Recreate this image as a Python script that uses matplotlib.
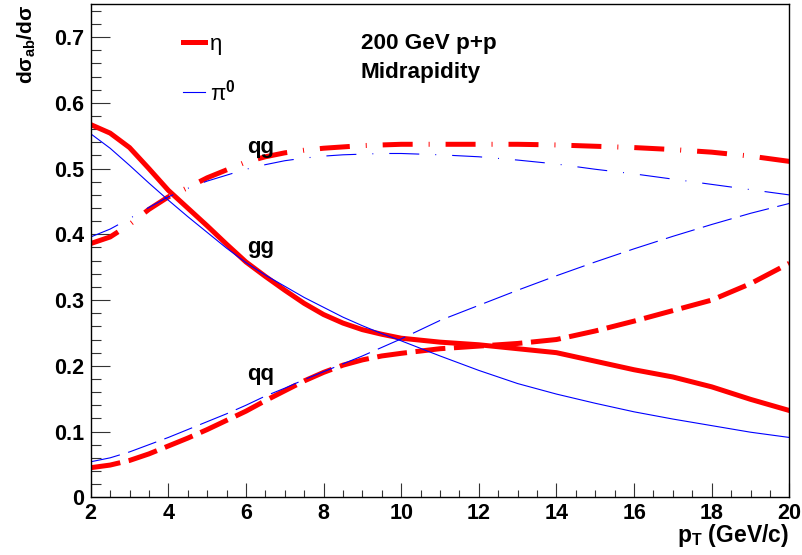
import matplotlib
matplotlib.use("Agg")
import matplotlib.pyplot as plt
from matplotlib.ticker import MultipleLocator

plt.rcParams['font.family'] = ['Liberation Sans', 'DejaVu Sans']
plt.rcParams['mathtext.fontset'] = 'custom'
plt.rcParams['mathtext.rm'] = 'Liberation Sans'
plt.rcParams['mathtext.bf'] = 'Liberation Sans:bold'
plt.rcParams['mathtext.it'] = 'Liberation Sans:italic'
plt.rcParams['lines.scale_dashes'] = False

# subprocess fractions vs pT
pt = [2, 2.5, 3, 3.5, 4, 4.5, 5, 5.5, 6, 6.5, 7, 7.5, 8, 8.5, 9, 9.5, 10,
      11, 12, 13, 14, 15, 16, 17, 18, 19, 20]

eta_gg = [0.567, 0.554, 0.532, 0.500, 0.467, 0.440, 0.413, 0.385, 0.358, 0.336,
          0.315, 0.295, 0.278, 0.265, 0.255, 0.248, 0.242,
          0.236, 0.232, 0.226, 0.220, 0.207, 0.194, 0.183, 0.168, 0.149, 0.132]
eta_qg = [0.386, 0.396, 0.415, 0.438, 0.457, 0.471, 0.486, 0.498, 0.510, 0.518,
          0.524, 0.528, 0.531, 0.533, 0.535, 0.536, 0.537,
          0.537, 0.537, 0.537, 0.536, 0.534, 0.532, 0.529, 0.525, 0.519, 0.511]
eta_qq = [0.045, 0.049, 0.056, 0.066, 0.078, 0.090, 0.103, 0.117, 0.131, 0.147,
          0.162, 0.177, 0.190, 0.201, 0.209, 0.215, 0.219,
          0.226, 0.230, 0.234, 0.240, 0.253, 0.268, 0.284, 0.300, 0.325, 0.356]

pi0_gg = [0.553, 0.531, 0.505, 0.478, 0.452, 0.427, 0.403, 0.379, 0.357, 0.338,
          0.321, 0.304, 0.289, 0.274, 0.261, 0.249, 0.238,
          0.215, 0.193, 0.173, 0.157, 0.143, 0.130, 0.119, 0.109, 0.099, 0.091]
pi0_qg = [0.396, 0.408, 0.424, 0.441, 0.457, 0.470, 0.481, 0.490, 0.499, 0.506,
          0.512, 0.516, 0.519, 0.521, 0.522, 0.523, 0.523,
          0.521, 0.518, 0.513, 0.507, 0.499, 0.492, 0.484, 0.476, 0.468, 0.460]
pi0_qq = [0.054, 0.060, 0.069, 0.080, 0.091, 0.103, 0.115, 0.127, 0.140, 0.154,
          0.166, 0.179, 0.191, 0.203, 0.215, 0.228, 0.241,
          0.269, 0.292, 0.315, 0.337, 0.358, 0.378, 0.397, 0.415, 0.432, 0.447]

dashed = (0, (21.6, 6.2))
dashdot = (0, (21.6, 11.5, 0.7, 11.5))

fig = plt.figure(figsize=(8.02, 5.55), dpi=100)
ax = fig.add_axes([0.1131, 0.104, 0.8711, 0.8883])

l_eta, = ax.plot(pt, eta_gg, color='#ff0000', lw=3.6, label='η')
ax.plot(pt, eta_qg, color='#ff0000', lw=3.6, linestyle=dashdot)
ax.plot(pt, eta_qq, color='#ff0000', lw=3.6, linestyle=dashed)
l_pi, = ax.plot(pt, pi0_gg, color='#0000ff', lw=0.8, label=r'π$^{\mathbf{0}}$')
ax.plot(pt, pi0_qg, color='#0000ff', lw=0.8, linestyle=dashdot)
ax.plot(pt, pi0_qq, color='#0000ff', lw=0.8, linestyle=dashed)

ax.set_xlim(2, 20)
ax.set_ylim(0, 0.75)
ax.xaxis.set_major_locator(MultipleLocator(2))
ax.xaxis.set_minor_locator(MultipleLocator(0.5))
ax.yaxis.set_major_locator(MultipleLocator(0.1))
ax.yaxis.set_minor_locator(MultipleLocator(0.02))
ax.tick_params(which='both', direction='in', top=False, right=False, width=0.8,
               color='#333333', labelsize=15.5)
ax.tick_params(axis='y', which='major', length=13.5, pad=5)
ax.tick_params(axis='y', which='minor', length=7)
ax.tick_params(axis='x', which='major', length=10, pad=4)
ax.tick_params(axis='x', which='minor', length=5)
for lab in ax.get_xticklabels() + ax.get_yticklabels():
    lab.set_fontweight('bold')
ax.yaxis.set_major_formatter(plt.FuncFormatter(lambda v, p: '0' if v == 0 else f'{v:.1f}'))
for s in ax.spines.values():
    s.set_linewidth(1.0)

ax.set_xlabel(r'$\mathbf{p_T}$ (GeV/c)', fontsize=16.5, fontweight='bold', loc='right')
ax.xaxis.set_label_coords(1.0, -0.05)
ax.set_ylabel(r'dσ$_{\mathbf{ab}}$/dσ', fontsize=15, fontweight='bold', loc='top')
ax.yaxis.set_label_coords(-0.076, 1.0)

ax.legend(handles=[l_eta, l_pi], loc='upper left', bbox_to_anchor=(0.132, 0.94),
          frameon=False, fontsize=16, handlelength=1.0, handletextpad=0.23,
          labelspacing=1.1, borderpad=0, borderaxespad=0)

ax.text(8.96, 0.682, '200 GeV p+p', fontsize=16.2, fontweight='bold')
ax.text(8.96, 0.638, 'Midrapidity', fontsize=16.2, fontweight='bold')
ax.text(6.02, 0.523, 'qg', fontsize=16, fontweight='bold')
ax.text(6.02, 0.371, 'gg', fontsize=16, fontweight='bold')
ax.text(6.02, 0.1785, 'qq', fontsize=16, fontweight='bold')

fig.savefig('out.png', dpi=100)
